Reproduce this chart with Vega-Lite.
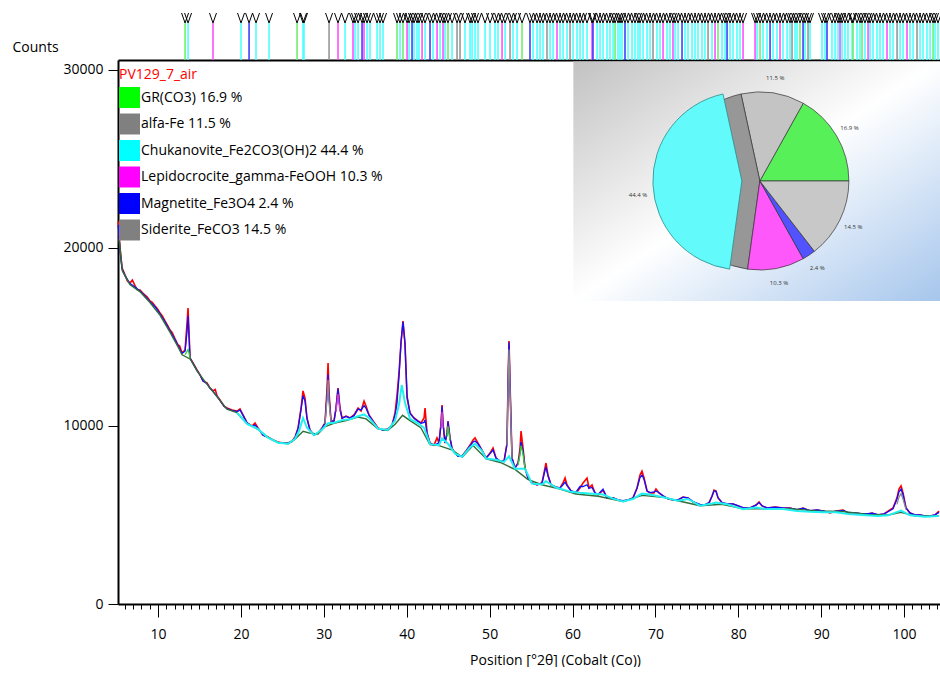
{
"$schema": "https://vega.github.io/schema/vega-lite/v6.json",
"background": "white",
"padding": {"left": 12, "top": 10, "right": 0, "bottom": 0},
"autosize": {"type": "pad"},
"config": {"view": {"stroke": null}, "axis": {"grid": false}},
"spacing": 0,
"bounds": "flush",
"resolve": {"scale": {"x": "independent", "y": "independent", "stroke": "independent", "fill": "independent", "color": "independent"}},
"datasets": {
"obs": [
{"x":5.2,"y":21500},{"x":5.42,"y":20000},{"x":5.66,"y":18880},{"x":6.02,"y":18480},{"x":6.3,"y":18150},{"x":6.62,"y":18030},{"x":6.9,"y":18200},{"x":7.23,"y":17870},{"x":7.5,"y":17650},{"x":7.83,"y":17640},{"x":8.1,"y":17500},{"x":8.43,"y":17360},{"x":8.7,"y":17250},{"x":9.03,"y":17020},{"x":9.3,"y":16950},{"x":9.64,"y":16740},{"x":9.9,"y":16600},{"x":10.24,"y":16350},{"x":10.5,"y":16200},{"x":10.84,"y":15900},{"x":11.1,"y":15700},{"x":11.45,"y":15390},{"x":11.7,"y":15250},{"x":12.05,"y":14890},{"x":12.41,"y":14550},{"x":12.6,"y":14500},{"x":12.9,"y":14100},{"x":13.26,"y":14270},{"x":13.5,"y":15790},{"x":13.62,"y":16630},{"x":13.74,"y":15220},{"x":13.86,"y":13820},{"x":14.22,"y":13540},{"x":14.7,"y":13150},{"x":15.07,"y":12870},{"x":15.43,"y":12530},{"x":15.91,"y":12420},{"x":16.27,"y":12130},{"x":16.63,"y":11970},{"x":16.9,"y":12050},{"x":17.12,"y":11690},{"x":17.48,"y":11460},{"x":17.96,"y":11120},{"x":18.32,"y":11010},{"x":18.93,"y":10900},{"x":19.53,"y":10840},{"x":19.89,"y":10960},{"x":20.25,"y":10620},{"x":20.74,"y":10170},{"x":21.34,"y":10000},{"x":21.7,"y":10170},{"x":22.06,"y":9890},{"x":22.67,"y":9490},{"x":23.27,"y":9380},{"x":23.87,"y":9210},{"x":24.48,"y":9100},{"x":25.08,"y":9040},{"x":25.68,"y":9040},{"x":26.16,"y":9160},{"x":26.53,"y":9380},{"x":26.89,"y":9890},{"x":27.25,"y":11010},{"x":27.49,"y":11970},{"x":27.73,"y":11570},{"x":27.97,"y":10450},{"x":28.33,"y":9780},{"x":28.81,"y":9490},{"x":29.3,"y":9610},{"x":29.78,"y":9890},{"x":30.14,"y":10170},{"x":30.39,"y":12130},{"x":30.51,"y":13540},{"x":30.63,"y":11850},{"x":30.87,"y":10280},{"x":31.23,"y":10280},{"x":31.47,"y":11010},{"x":31.71,"y":12130},{"x":31.95,"y":11010},{"x":32.2,"y":10450},{"x":32.68,"y":10560},{"x":33.16,"y":10450},{"x":33.64,"y":10620},{"x":34.13,"y":11010},{"x":34.49,"y":10840},{"x":34.85,"y":11400},{"x":35.09,"y":11120},{"x":35.45,"y":10620},{"x":35.94,"y":10280},{"x":36.54,"y":9890},{"x":37.14,"y":9780},{"x":37.74,"y":9830},{"x":38.23,"y":10060},{"x":38.59,"y":10730},{"x":38.83,"y":11740},{"x":39.07,"y":12980},{"x":39.31,"y":14660},{"x":39.55,"y":15900},{"x":39.79,"y":14660},{"x":40.04,"y":11570},{"x":40.4,"y":10730},{"x":40.88,"y":10450},{"x":41.36,"y":10280},{"x":41.73,"y":10170},{"x":42.09,"y":10450},{"x":42.21,"y":11010},{"x":42.45,"y":9610},{"x":42.81,"y":9040},{"x":43.29,"y":8930},{"x":43.65,"y":9330},{"x":43.89,"y":9040},{"x":44.14,"y":10170},{"x":44.26,"y":11180},{"x":44.38,"y":10170},{"x":44.62,"y":9040},{"x":44.86,"y":9610},{"x":44.98,"y":10280},{"x":45.22,"y":9330},{"x":45.46,"y":8760},{"x":45.83,"y":8480},{"x":46.19,"y":8310},{"x":46.67,"y":8310},{"x":47.15,"y":8600},{"x":47.64,"y":8930},{"x":48.0,"y":9210},{"x":48.24,"y":9330},{"x":48.6,"y":9040},{"x":49.08,"y":8650},{"x":49.57,"y":8200},{"x":50.05,"y":8480},{"x":50.41,"y":8760},{"x":50.77,"y":8200},{"x":51.25,"y":8030},{"x":51.74,"y":8030},{"x":52.1,"y":9040},{"x":52.22,"y":12420},{"x":52.34,"y":14780},{"x":52.46,"y":12420},{"x":52.7,"y":8200},{"x":53.06,"y":7640},{"x":53.43,"y":7920},{"x":53.67,"y":8760},{"x":53.79,"y":9720},{"x":54.03,"y":8760},{"x":54.27,"y":7640},{"x":54.63,"y":7080},{"x":55.11,"y":6800},{"x":55.72,"y":6690},{"x":56.32,"y":6800},{"x":56.68,"y":7640},{"x":56.8,"y":7920},{"x":57.04,"y":7250},{"x":57.41,"y":6690},{"x":58.01,"y":6570},{"x":58.49,"y":6520},{"x":58.85,"y":6800},{"x":59.1,"y":7080},{"x":59.34,"y":6690},{"x":59.82,"y":6350},{"x":60.42,"y":6240},{"x":60.9,"y":6520},{"x":61.27,"y":6800},{"x":61.75,"y":7080},{"x":61.99,"y":6520},{"x":62.35,"y":6690},{"x":62.71,"y":6240},{"x":63.08,"y":6120},{"x":63.68,"y":6400},{"x":64.16,"y":5960},{"x":64.89,"y":5960},{"x":65.49,"y":5840},{"x":66.09,"y":5790},{"x":66.7,"y":5840},{"x":67.3,"y":5960},{"x":67.78,"y":6520},{"x":68.14,"y":7250},{"x":68.38,"y":7470},{"x":68.63,"y":7080},{"x":68.99,"y":6350},{"x":69.35,"y":6240},{"x":69.83,"y":6240},{"x":70.07,"y":6460},{"x":70.43,"y":6240},{"x":70.92,"y":6070},{"x":71.52,"y":5900},{"x":72.12,"y":5840},{"x":72.73,"y":5840},{"x":73.33,"y":6010},{"x":73.93,"y":5960},{"x":74.54,"y":5730},{"x":75.38,"y":5560},{"x":75.98,"y":5560},{"x":76.47,"y":5670},{"x":76.83,"y":6070},{"x":77.07,"y":6400},{"x":77.31,"y":6350},{"x":77.55,"y":5960},{"x":78.04,"y":5670},{"x":78.64,"y":5620},{"x":79.36,"y":5620},{"x":79.96,"y":5510},{"x":80.57,"y":5390},{"x":81.41,"y":5390},{"x":82.13,"y":5560},{"x":82.5,"y":5730},{"x":82.86,"y":5510},{"x":83.46,"y":5390},{"x":84.43,"y":5450},{"x":85.39,"y":5390},{"x":86.24,"y":5390},{"x":87.08,"y":5280},{"x":87.81,"y":5390},{"x":88.65,"y":5220},{"x":89.49,"y":5280},{"x":90.22,"y":5220},{"x":91.06,"y":5110},{"x":91.79,"y":5220},{"x":92.63,"y":5280},{"x":93.23,"y":5110},{"x":94.08,"y":5110},{"x":94.92,"y":5060},{"x":95.65,"y":5060},{"x":96.13,"y":5110},{"x":96.85,"y":5000},{"x":97.58,"y":5060},{"x":98.06,"y":5220},{"x":98.66,"y":5390},{"x":99.14,"y":5960},{"x":99.38,"y":6460},{"x":99.63,"y":6630},{"x":99.87,"y":6240},{"x":100.23,"y":5390},{"x":100.71,"y":5110},{"x":101.31,"y":5000},{"x":101.92,"y":5000},{"x":102.52,"y":4940},{"x":103.12,"y":4940},{"x":103.72,"y":5000},{"x":104.21,"y":5220}
],
"calc": [
{"x":5.2,"y":21300},{"x":5.42,"y":19800},{"x":5.66,"y":18800},{"x":6.02,"y":18450},{"x":6.62,"y":18000},{"x":7.23,"y":17800},{"x":7.83,"y":17580},{"x":8.43,"y":17300},{"x":9.03,"y":16980},{"x":9.64,"y":16700},{"x":10.24,"y":16300},{"x":10.84,"y":15850},{"x":11.45,"y":15350},{"x":12.05,"y":14850},{"x":12.41,"y":14520},{"x":12.9,"y":14080},{"x":13.26,"y":14200},{"x":13.5,"y":15300},{"x":13.62,"y":16200},{"x":13.74,"y":15000},{"x":13.86,"y":13800},{"x":14.22,"y":13520},{"x":14.7,"y":13120},{"x":15.07,"y":12850},{"x":15.43,"y":12520},{"x":15.91,"y":12380},{"x":16.27,"y":12120},{"x":16.63,"y":11950},{"x":17.12,"y":11660},{"x":17.48,"y":11430},{"x":17.96,"y":11100},{"x":18.32,"y":10980},{"x":18.93,"y":10870},{"x":19.53,"y":10800},{"x":19.89,"y":10900},{"x":20.25,"y":10600},{"x":20.74,"y":10180},{"x":21.34,"y":9980},{"x":21.7,"y":10050},{"x":22.06,"y":9860},{"x":22.67,"y":9480},{"x":23.27,"y":9360},{"x":23.87,"y":9200},{"x":24.48,"y":9080},{"x":25.08,"y":9030},{"x":25.68,"y":9030},{"x":26.16,"y":9120},{"x":26.53,"y":9350},{"x":26.89,"y":9850},{"x":27.25,"y":10900},{"x":27.49,"y":11700},{"x":27.73,"y":11400},{"x":27.97,"y":10400},{"x":28.33,"y":9760},{"x":28.81,"y":9480},{"x":29.3,"y":9600},{"x":29.78,"y":9870},{"x":30.14,"y":10150},{"x":30.39,"y":11800},{"x":30.51,"y":12900},{"x":30.63,"y":11600},{"x":30.87,"y":10270},{"x":31.23,"y":10270},{"x":31.47,"y":11000},{"x":31.71,"y":12100},{"x":31.95,"y":10950},{"x":32.2,"y":10430},{"x":32.68,"y":10540},{"x":33.16,"y":10440},{"x":33.64,"y":10580},{"x":34.13,"y":10950},{"x":34.49,"y":10900},{"x":34.85,"y":11150},{"x":35.09,"y":11000},{"x":35.45,"y":10600},{"x":35.94,"y":10260},{"x":36.54,"y":9870},{"x":37.14,"y":9760},{"x":37.74,"y":9820},{"x":38.23,"y":10040},{"x":38.59,"y":10600},{"x":38.83,"y":11300},{"x":39.07,"y":12800},{"x":39.31,"y":14700},{"x":39.55,"y":15850},{"x":39.79,"y":14600},{"x":40.04,"y":11700},{"x":40.4,"y":10700},{"x":40.88,"y":10430},{"x":41.36,"y":10260},{"x":41.73,"y":10150},{"x":42.09,"y":10200},{"x":42.21,"y":10350},{"x":42.45,"y":9600},{"x":42.81,"y":9030},{"x":43.29,"y":8920},{"x":43.65,"y":9000},{"x":43.89,"y":9050},{"x":44.14,"y":10100},{"x":44.26,"y":11100},{"x":44.38,"y":10150},{"x":44.62,"y":9050},{"x":44.86,"y":9550},{"x":44.98,"y":10250},{"x":45.22,"y":9320},{"x":45.46,"y":8750},{"x":45.83,"y":8470},{"x":46.19,"y":8300},{"x":46.67,"y":8300},{"x":47.15,"y":8590},{"x":47.64,"y":8900},{"x":48.0,"y":9100},{"x":48.24,"y":9150},{"x":48.6,"y":9000},{"x":49.08,"y":8640},{"x":49.57,"y":8200},{"x":50.05,"y":8450},{"x":50.41,"y":8650},{"x":50.77,"y":8200},{"x":51.25,"y":8020},{"x":51.74,"y":8020},{"x":52.1,"y":9000},{"x":52.22,"y":12400},{"x":52.34,"y":14700},{"x":52.46,"y":12300},{"x":52.7,"y":8200},{"x":53.06,"y":7640},{"x":53.43,"y":7900},{"x":53.67,"y":8500},{"x":53.79,"y":9100},{"x":54.03,"y":8600},{"x":54.27,"y":7640},{"x":54.63,"y":7080},{"x":55.11,"y":6800},{"x":55.72,"y":6690},{"x":56.32,"y":6800},{"x":56.68,"y":7500},{"x":56.8,"y":7700},{"x":57.04,"y":7200},{"x":57.41,"y":6690},{"x":58.01,"y":6570},{"x":58.49,"y":6520},{"x":58.85,"y":6700},{"x":59.1,"y":6850},{"x":59.34,"y":6650},{"x":59.82,"y":6350},{"x":60.42,"y":6280},{"x":60.9,"y":6600},{"x":61.27,"y":6600},{"x":61.75,"y":6700},{"x":61.99,"y":6500},{"x":62.35,"y":6550},{"x":62.71,"y":6240},{"x":63.08,"y":6150},{"x":63.68,"y":6450},{"x":64.16,"y":5960},{"x":64.89,"y":5960},{"x":65.49,"y":5850},{"x":66.09,"y":5800},{"x":66.7,"y":5850},{"x":67.3,"y":5960},{"x":67.78,"y":6500},{"x":68.14,"y":7100},{"x":68.38,"y":7250},{"x":68.63,"y":7000},{"x":68.99,"y":6350},{"x":69.35,"y":6260},{"x":69.83,"y":6300},{"x":70.07,"y":6350},{"x":70.43,"y":6250},{"x":70.92,"y":6080},{"x":71.52,"y":5920},{"x":72.12,"y":5850},{"x":72.73,"y":5850},{"x":73.33,"y":6000},{"x":73.93,"y":5960},{"x":74.54,"y":5750},{"x":75.38,"y":5600},{"x":75.98,"y":5580},{"x":76.47,"y":5700},{"x":76.83,"y":6050},{"x":77.07,"y":6350},{"x":77.31,"y":6330},{"x":77.55,"y":5980},{"x":78.04,"y":5700},{"x":78.64,"y":5640},{"x":79.36,"y":5630},{"x":79.96,"y":5530},{"x":80.57,"y":5410},{"x":81.41,"y":5400},{"x":82.13,"y":5550},{"x":82.5,"y":5700},{"x":82.86,"y":5520},{"x":83.46,"y":5400},{"x":84.43,"y":5440},{"x":85.39,"y":5400},{"x":86.24,"y":5390},{"x":87.08,"y":5300},{"x":87.81,"y":5380},{"x":88.65,"y":5240},{"x":89.49,"y":5280},{"x":90.22,"y":5230},{"x":91.06,"y":5130},{"x":91.79,"y":5220},{"x":92.63,"y":5260},{"x":93.23,"y":5130},{"x":94.08,"y":5120},{"x":94.92,"y":5070},{"x":95.65,"y":5070},{"x":96.13,"y":5100},{"x":96.85,"y":5020},{"x":97.58,"y":5060},{"x":98.06,"y":5180},{"x":98.66,"y":5350},{"x":99.14,"y":5900},{"x":99.38,"y":6300},{"x":99.63,"y":6450},{"x":99.87,"y":6150},{"x":100.23,"y":5400},{"x":100.71,"y":5120},{"x":101.31,"y":5010},{"x":101.92,"y":5010},{"x":102.52,"y":4950},{"x":103.12,"y":4950},{"x":103.72,"y":5010},{"x":104.21,"y":5150}
],
"bg": [
{"x":5.3,"y":20500},{"x":5.7,"y":18700},{"x":6.6,"y":17950},{"x":7.8,"y":17550},{"x":9.0,"y":16950},{"x":10.2,"y":16250},{"x":11.4,"y":15300},{"x":12.4,"y":14450},{"x":12.9,"y":14000},{"x":13.9,"y":13750},{"x":14.7,"y":13100},{"x":15.9,"y":12350},{"x":17.1,"y":11650},{"x":18.3,"y":10950},{"x":19.5,"y":10750},{"x":20.7,"y":10150},{"x":22.1,"y":9800},{"x":23.3,"y":9350},{"x":24.5,"y":9070},{"x":25.7,"y":9000},{"x":26.5,"y":9250},{"x":27.5,"y":9700},{"x":28.3,"y":9600},{"x":29.3,"y":9550},{"x":30.1,"y":9950},{"x":31.2,"y":10150},{"x":32.7,"y":10300},{"x":34.1,"y":10500},{"x":35.1,"y":10400},{"x":36.5,"y":9850},{"x":37.7,"y":9750},{"x":38.6,"y":10100},{"x":39.5,"y":10600},{"x":40.4,"y":10300},{"x":41.7,"y":9900},{"x":42.8,"y":8950},{"x":43.9,"y":8900},{"x":45.5,"y":8650},{"x":46.7,"y":8250},{"x":48.0,"y":8900},{"x":49.6,"y":8150},{"x":51.3,"y":7950},{"x":53.1,"y":7550},{"x":54.6,"y":7000},{"x":56.3,"y":6700},{"x":58.5,"y":6450},{"x":60.4,"y":6180},{"x":63.1,"y":6050},{"x":66.1,"y":5750},{"x":68.4,"y":6100},{"x":70.9,"y":6000},{"x":72.7,"y":5800},{"x":75.4,"y":5520},{"x":78.0,"y":5600},{"x":80.6,"y":5350},{"x":83.5,"y":5350},{"x":86.2,"y":5350},{"x":89.5,"y":5230},{"x":92.6,"y":5200},{"x":95.6,"y":5030},{"x":98.1,"y":5000},{"x":99.6,"y":5150},{"x":101.3,"y":4950},{"x":104.2,"y":4950}
],
"chuk": [
{"x":19.53,"y":10750},{"x":20.74,"y":10120},{"x":22.06,"y":9820},{"x":23.27,"y":9340},{"x":24.48,"y":9060},{"x":25.68,"y":9000},{"x":26.53,"y":9280},{"x":27.0,"y":9700},{"x":27.49,"y":10450},{"x":27.97,"y":9900},{"x":28.81,"y":9480},{"x":29.78,"y":9800},{"x":30.5,"y":10150},{"x":31.23,"y":10180},{"x":32.2,"y":10330},{"x":33.16,"y":10380},{"x":34.13,"y":10550},{"x":34.85,"y":10650},{"x":35.45,"y":10450},{"x":36.54,"y":9850},{"x":37.74,"y":9780},{"x":38.59,"y":10300},{"x":39.07,"y":11200},{"x":39.4,"y":12300},{"x":39.79,"y":11300},{"x":40.4,"y":10400},{"x":41.36,"y":10150},{"x":42.09,"y":9900},{"x":42.81,"y":8980},{"x":43.89,"y":8920},{"x":44.26,"y":9300},{"x":44.98,"y":9000},{"x":45.83,"y":8450},{"x":46.67,"y":8270},{"x":47.64,"y":8800},{"x":48.24,"y":9000},{"x":49.08,"y":8600},{"x":49.57,"y":8170},{"x":50.77,"y":8100},{"x":51.74,"y":7980},{"x":52.34,"y":8300},{"x":53.06,"y":7600},{"x":54.27,"y":7600},{"x":55.11,"y":6760},{"x":56.32,"y":6720},{"x":56.8,"y":6900},{"x":58.01,"y":6540},{"x":59.82,"y":6300},{"x":60.9,"y":6250},{"x":62.35,"y":6200},{"x":63.68,"y":6150},{"x":64.89,"y":5920},{"x":66.09,"y":5760},{"x":67.3,"y":5900},{"x":68.38,"y":6200},{"x":69.35,"y":6150},{"x":70.92,"y":6000},{"x":72.73,"y":5800},{"x":73.93,"y":5900},{"x":75.38,"y":5520},{"x":76.83,"y":5650},{"x":77.31,"y":5700},{"x":78.64,"y":5600},{"x":80.57,"y":5330},{"x":82.13,"y":5420},{"x":83.46,"y":5330},{"x":85.39,"y":5330},{"x":87.08,"y":5230},{"x":88.65,"y":5180},{"x":90.22,"y":5160},{"x":91.79,"y":5150},{"x":93.23,"y":5060},{"x":94.92,"y":5000},{"x":96.85,"y":4950},{"x":98.06,"y":4980},{"x":99.63,"y":5250},{"x":100.71,"y":4980},{"x":102.52,"y":4900},{"x":104.21,"y":4950}
],
"seg": [
{"g":"gy1","p":"Gy","x":30.14,"y":10100},{"g":"gy1","p":"Gy","x":30.39,"y":11500},{"g":"gy1","p":"Gy","x":30.51,"y":12600},{"g":"gy1","p":"Gy","x":30.63,"y":11300},{"g":"gy1","p":"Gy","x":30.87,"y":10250},
{"g":"gy2","p":"Gy","x":52.1,"y":8900},{"g":"gy2","p":"Gy","x":52.22,"y":12000},{"g":"gy2","p":"Gy","x":52.34,"y":14300},{"g":"gy2","p":"Gy","x":52.46,"y":12000},{"g":"gy2","p":"Gy","x":52.7,"y":8150},
{"g":"gy3","p":"Gy","x":99.14,"y":5600},{"g":"gy3","p":"Gy","x":99.38,"y":6000},{"g":"gy3","p":"Gy","x":99.63,"y":6200},{"g":"gy3","p":"Gy","x":99.87,"y":5900},{"g":"gy3","p":"Gy","x":100.23,"y":5300},
{"g":"m1","p":"M","x":31.47,"y":10800},{"g":"m1","p":"M","x":31.71,"y":11800},{"g":"m1","p":"M","x":31.95,"y":10800},
{"g":"m2","p":"M","x":44.14,"y":9900},{"g":"m2","p":"M","x":44.26,"y":10800},{"g":"m2","p":"M","x":44.38,"y":9900},
{"g":"g1","p":"G","x":53.43,"y":7800},{"g":"g1","p":"G","x":53.67,"y":8400},{"g":"g1","p":"G","x":53.79,"y":8900},{"g":"g1","p":"G","x":54.03,"y":8400},{"g":"g1","p":"G","x":54.27,"y":7600},
{"g":"g2","p":"G","x":13.26,"y":14000},{"g":"g2","p":"G","x":13.5,"y":14200},{"g":"g2","p":"G","x":13.62,"y":14300},{"g":"g2","p":"G","x":13.74,"y":14100},{"g":"g2","p":"G","x":13.86,"y":13800},
{"g":"g3","p":"G","x":44.86,"y":9400},{"g":"g3","p":"G","x":44.98,"y":10000},{"g":"g3","p":"G","x":45.22,"y":9200}
],
"pie": [
{"idx":1,"label":"GR(CO3) 16.9 %","pct":16.9,"lab":"16.9 %"},
{"idx":2,"label":"alfa-Fe 11.5 %","pct":11.5,"lab":"11.5 %"},
{"idx":3,"label":"Chukanovite_Fe2CO3(OH)2 44.4 %","pct":44.4,"lab":"44.4 %"},
{"idx":4,"label":"Lepidocrocite_gamma-FeOOH 10.3 %","pct":10.3,"lab":"10.3 %"},
{"idx":5,"label":"Magnetite_Fe3O4 2.4 %","pct":2.4,"lab":"2.4 %"},
{"idx":6,"label":"Siderite_FeCO3 14.5 %","pct":14.5,"lab":"14.5 %"}
],
"pk": [
{"x":13.26,"p":"G"},{"x":13.62,"p":"C"},{"x":16.63,"p":"M"},{"x":20.01,"p":"C"},{"x":20.98,"p":"B"},{"x":21.82,"p":"C"},{"x":23.39,"p":"C"},{"x":26.77,"p":"G"},{"x":27.49,"p":"C"},{"x":27.61,"p":"C"},{"x":30.63,"p":"Gy"},{"x":31.71,"p":"M"},{"x":32.56,"p":"C"},{"x":33.52,"p":"M"},{"x":33.76,"p":"C"},{"x":34.13,"p":"C"},{"x":34.61,"p":"B"},{"x":34.85,"p":"M"},{"x":35.21,"p":"C"},{"x":35.57,"p":"C"},{"x":36.42,"p":"C"},{"x":36.78,"p":"C"},{"x":37.14,"p":"C"},{"x":38.83,"p":"G"},{"x":39.19,"p":"C"},{"x":39.55,"p":"G"},{"x":40.04,"p":"M"},{"x":40.28,"p":"C"},{"x":40.64,"p":"B"},{"x":40.88,"p":"C"},{"x":41.24,"p":"C"},{"x":41.48,"p":"C"},{"x":41.85,"p":"M"},{"x":42.21,"p":"C"},{"x":42.81,"p":"B"},{"x":43.17,"p":"C"},{"x":43.66,"p":"M"},{"x":44.02,"p":"C"},{"x":44.38,"p":"M"},{"x":44.62,"p":"C"},{"x":44.98,"p":"G"},{"x":45.47,"p":"C"},{"x":46.07,"p":"Gy"},{"x":46.43,"p":"Gy"},{"x":47.03,"p":"C"},
{"x":47.64,"p":"C"},{"x":47.88,"p":"C"},{"x":48.24,"p":"C"},{"x":48.6,"p":"C"},{"x":49.45,"p":"C"},{"x":50.05,"p":"C"},{"x":50.65,"p":"C"},{"x":51.01,"p":"C"},{"x":51.5,"p":"M"},{"x":51.86,"p":"C"},{"x":52.46,"p":"Gy"},{"x":52.82,"p":"C"},{"x":53.31,"p":"C"},{"x":53.91,"p":"G"},{"x":54.87,"p":"B"},{"x":55.24,"p":"C"},{"x":55.72,"p":"C"},{"x":56.08,"p":"C"},{"x":56.44,"p":"C"},{"x":56.92,"p":"Gy"},{"x":57.29,"p":"C"},{"x":57.65,"p":"C"},{"x":58.13,"p":"M"},{"x":58.49,"p":"C"},{"x":58.86,"p":"C"},{"x":59.34,"p":"C"},{"x":59.7,"p":"Gy"},{"x":60.06,"p":"C"},{"x":60.54,"p":"C"},{"x":60.91,"p":"C"},{"x":61.27,"p":"C"},{"x":61.75,"p":"C"},{"x":62.35,"p":"M"},{"x":62.47,"p":"B"},{"x":62.96,"p":"C"},{"x":63.32,"p":"C"},{"x":63.68,"p":"C"},{"x":64.16,"p":"C"},{"x":64.52,"p":"C"},{"x":64.89,"p":"C"},{"x":65.13,"p":"G"},{"x":65.49,"p":"C"},{"x":65.73,"p":"C"},{"x":65.97,"p":"C"},{"x":66.33,"p":"B"},{"x":66.7,"p":"C"},{"x":67.18,"p":"C"},{"x":67.54,"p":"C"},{"x":67.9,"p":"C"},{"x":68.14,"p":"C"},{"x":68.51,"p":"C"},{"x":68.99,"p":"C"},{"x":69.35,"p":"C"},{"x":69.71,"p":"Gy"},{"x":70.19,"p":"C"},{"x":70.56,"p":"C"},{"x":70.92,"p":"M"},{"x":71.4,"p":"C"},{"x":71.76,"p":"C"},{"x":72.12,"p":"M"},{"x":72.37,"p":"C"},{"x":72.73,"p":"C"},{"x":73.21,"p":"B"},{"x":73.57,"p":"C"},{"x":73.93,"p":"C"},{"x":74.42,"p":"C"},{"x":74.78,"p":"C"},{"x":75.14,"p":"C"},{"x":75.62,"p":"C"},{"x":75.98,"p":"C"},{"x":76.35,"p":"Gy"},{"x":76.83,"p":"C"},{"x":77.19,"p":"M"},{"x":77.55,"p":"G"},{"x":78.04,"p":"C"},{"x":78.4,"p":"C"},{"x":78.64,"p":"B"},{"x":79.0,"p":"C"},{"x":79.36,"p":"C"},{"x":79.84,"p":"C"},{"x":80.21,"p":"C"},{"x":80.57,"p":"M"},{"x":82.02,"p":"M"},{"x":82.26,"p":"C"},{"x":82.62,"p":"G"},{"x":82.98,"p":"C"},{"x":83.46,"p":"C"},{"x":83.83,"p":"B"},{"x":84.19,"p":"C"},{"x":84.67,"p":"C"},{"x":85.03,"p":"M"},{"x":85.39,"p":"C"},{"x":85.88,"p":"C"},{"x":86.24,"p":"C"},{"x":86.48,"p":"Gy"},{"x":86.84,"p":"C"},{"x":87.08,"p":"C"},{"x":87.44,"p":"G"},{"x":87.81,"p":"B"},{"x":88.05,"p":"C"},{"x":88.41,"p":"Gy"},{"x":88.65,"p":"C"},{"x":90.1,"p":"C"},{"x":90.46,"p":"C"},{"x":90.7,"p":"B"},{"x":91.3,"p":"C"},{"x":91.67,"p":"C"},{"x":92.03,"p":"C"},{"x":92.27,"p":"M"},{"x":92.51,"p":"C"},{"x":92.87,"p":"C"},{"x":93.23,"p":"C"},{"x":93.72,"p":"C"},{"x":93.84,"p":"G"},{"x":94.32,"p":"C"},{"x":94.68,"p":"C"},{"x":94.92,"p":"G"},{"x":95.28,"p":"C"},{"x":95.65,"p":"M"},{"x":95.89,"p":"C"},{"x":96.25,"p":"C"},{"x":96.73,"p":"C"},{"x":97.09,"p":"C"},{"x":97.46,"p":"C"},{"x":97.94,"p":"M"},{"x":98.3,"p":"C"},{"x":98.66,"p":"C"},{"x":99.15,"p":"Gy"},{"x":99.51,"p":"C"},{"x":99.87,"p":"C"},{"x":100.35,"p":"M"},{"x":100.71,"p":"C"},{"x":101.08,"p":"C"},{"x":101.56,"p":"Gy"},{"x":101.92,"p":"C"},{"x":102.28,"p":"C"},{"x":102.76,"p":"C"},{"x":103.13,"p":"C"},{"x":103.49,"p":"G"},{"x":103.73,"p":"C"},{"x":104.09,"p":"C"}
]
},
"vconcat": [
{
"width": 822, "height": 47,
"data": {"name": "pk"},
"layer": [
{"mark": {"type": "rule", "strokeWidth": 1.5},
 "encoding": {
  "x": {"field": "x", "type": "quantitative", "scale": {"domain": [5.17, 104.33], "nice": false, "zero": false},
        "axis": {"title": null, "labels": false, "ticks": false, "domainColor": "#000000", "domainWidth": 2}},
  "y": {"datum": 0, "type": "quantitative", "scale": {"domain": [0, 1], "nice": false}, "axis": null},
  "y2": {"datum": 0.787},
  "stroke": {"field": "p", "type": "nominal", "scale": {"domain": ["G", "C", "M", "B", "Gy"], "range": ["#66ee66", "#44ffff", "#ff44ff", "#3333ff", "#909090"]}, "legend": null}
 }},
{"mark": {"type": "point", "shape": "M-0.7,-1L0,1L0.7,-1", "filled": false, "stroke": "#000000", "strokeWidth": 1, "size": 100, "opacity": 1},
 "encoding": {
  "x": {"field": "x", "type": "quantitative"},
  "y": {"datum": 0.894, "type": "quantitative"}
 }}
]
},
{
"width": 822, "height": 544,
"resolve": {"axis": {"x": "independent"}},
"layer": [
{"data": {"values": [{}]},
 "mark": {"type": "rect", "fill": {"gradient": "linear", "x1": 0, "y1": 0, "x2": 1, "y2": 1, "stops": [{"offset": 0, "color": "#c2c2c2"}, {"offset": 0.5, "color": "#ffffff"}, {"offset": 1, "color": "#a6c6ec"}]}},
 "encoding": {
  "x": {"datum": 60.1, "type": "quantitative",
        "scale": {"domain": [5.17, 104.33], "nice": false, "zero": false},
        "axis": {"orient": "bottom", "title": "Position [°2θ] (Cobalt (Co))",
                 "values": [10,20,30,40,50,60,70,80,90,100],
                 "tickSize": 13, "tickColor": "#000000", "tickWidth": 1, "domainColor": "#000000", "domainWidth": 2,
                 "labelFont": "Open Sans", "labelFontSize": 14, "labelColor": "#000000", "labelPadding": 10,
                 "labelOverlap": false, "labelFlush": false,
                 "titleFont": "Open Sans", "titleFontSize": 14, "titleFontWeight": "normal", "titleColor": "#000000", "titlePadding": 12, "titleX": 437}},
  "x2": {"datum": 104.33},
  "y": {"datum": 17022, "type": "quantitative",
        "scale": {"domain": [0, 30560], "nice": false, "zero": false},
        "axis": {"title": "Counts", "values": [0, 10000, 20000, 30000], "format": "d",
                 "tickSize": 10, "tickColor": "#000000", "domainColor": "#000000", "domainWidth": 2,
                 "labelFont": "Open Sans", "labelFontSize": 14, "labelColor": "#000000", "labelPadding": 5,
                 "titleAngle": 0, "titleX": -106, "titleY": -13, "titleAlign": "left", "titleBaseline": "middle",
                 "titleFont": "Open Sans", "titleFontSize": 14, "titleFontWeight": "normal", "titleColor": "#000000"}},
  "y2": {"datum": 30480}
 }},
{"data": {"name": "obs"}, "mark": {"type": "line", "color": "#ff0000", "strokeWidth": 1.6},
 "encoding": {
  "x": {"field": "x", "type": "quantitative",
        "axis": {"orient": "bottom", "title": null, "labels": false, "domain": false,
                 "values": [6,7,8,9,11,12,13,14,15,16,17,18,19,21,22,23,24,25,26,27,28,29,31,32,33,34,35,36,37,38,39,41,42,43,44,45,46,47,48,49,51,52,53,54,55,56,57,58,59,61,62,63,64,65,66,67,68,69,71,72,73,74,75,76,77,78,79,81,82,83,84,85,86,87,88,89,91,92,93,94,95,96,97,98,99,101,102,103,104],
                 "tickSize": 5, "tickColor": "#000000", "tickWidth": 1}},
  "y": {"field": "y", "type": "quantitative"}}},
{"data": {"name": "calc"}, "mark": {"type": "line", "color": "#1010ff", "strokeWidth": 1.3},
 "encoding": {"x": {"field": "x", "type": "quantitative", "axis": null}, "y": {"field": "y", "type": "quantitative"}}},
{"data": {"name": "bg"}, "mark": {"type": "line", "color": "#2f6e3a", "strokeWidth": 1.4},
 "encoding": {"x": {"field": "x", "type": "quantitative", "axis": null}, "y": {"field": "y", "type": "quantitative"}}},
{"data": {"name": "chuk"}, "mark": {"type": "line", "color": "#22f0f0", "strokeWidth": 2},
 "encoding": {"x": {"field": "x", "type": "quantitative", "axis": null}, "y": {"field": "y", "type": "quantitative"}}},
{"data": {"name": "seg"}, "mark": {"type": "line", "strokeWidth": 1.3},
 "encoding": {"x": {"field": "x", "type": "quantitative", "axis": null}, "y": {"field": "y", "type": "quantitative"}, "detail": {"field": "g"},
  "stroke": {"field": "p", "type": "nominal", "scale": {"domain": ["Gy", "M", "G"], "range": ["#8a8a8a", "#cc44cc", "#33cc33"]}, "legend": null}}},
{"data": {"name": "pie"},
 "mark": {"type": "point", "shape": "square", "opacity": 0},
 "encoding": {
  "x": {"datum": 50, "type": "quantitative", "axis": null}, "y": {"datum": 20000, "type": "quantitative"},
  "fill": {"field": "label", "type": "nominal",
   "scale": {"domain": ["GR(CO3) 16.9 %", "alfa-Fe 11.5 %", "Chukanovite_Fe2CO3(OH)2 44.4 %", "Lepidocrocite_gamma-FeOOH 10.3 %", "Magnetite_Fe3O4 2.4 %", "Siderite_FeCO3 14.5 %"],
             "range": ["#00ff00", "#808080", "#00ffff", "#ff00ff", "#0000ff", "#808080"]},
   "legend": {"orient": "none", "legendX": 1, "legendY": 8, "title": "PV129_7_air",
     "titleColor": "#ff0000", "titleFont": "Open Sans", "titleFontSize": 14, "titleFontWeight": "normal", "titlePadding": 5,
     "labelFont": "Open Sans", "labelFontSize": 14, "labelColor": "#000000", "labelOffset": 1, "labelLimit": 500,
     "symbolType": "square", "symbolSize": 441, "symbolStrokeWidth": 0, "symbolOpacity": 1, "rowPadding": 5.5, "padding": 0}}
 }},
{"data": {"name": "pie"},
 "mark": {"type": "arc", "outerRadius": 89, "stroke": "#333333", "strokeWidth": 0.7},
 "encoding": {
  "x": {"datum": 82.6, "type": "quantitative", "axis": null}, "y": {"datum": 23764, "type": "quantitative"},
  "theta": {"field": "pct", "type": "quantitative", "stack": true, "scale": {"range": [1.5708, -4.7124]}},
  "order": {"field": "idx", "type": "quantitative"},
  "color": {"condition": {"test": "datum.idx === 3", "value": "#979797"}, "field": "label", "type": "nominal",
   "scale": {"domain": ["GR(CO3) 16.9 %", "alfa-Fe 11.5 %", "Chukanovite_Fe2CO3(OH)2 44.4 %", "Lepidocrocite_gamma-FeOOH 10.3 %", "Magnetite_Fe3O4 2.4 %", "Siderite_FeCO3 14.5 %"],
             "range": ["#58f058", "#c4c4c4", "#62fafa", "#ff58fa", "#5252ff", "#c8c8c8"]},
   "legend": null}
 }},
{"data": {"name": "pie"},
 "mark": {"type": "arc", "outerRadius": 89, "stroke": "#2a8c8c", "strokeWidth": 0.8, "xOffset": -18},
 "encoding": {
  "x": {"datum": 82.6, "type": "quantitative", "axis": null}, "y": {"datum": 23764, "type": "quantitative"},
  "theta": {"field": "pct", "type": "quantitative", "stack": true},
  "order": {"field": "idx", "type": "quantitative"},
  "color": {"field": "label", "type": "nominal", "legend": null},
  "opacity": {"condition": {"test": "datum.idx === 3", "value": 1}, "value": 0}
 }},
{"data": {"name": "pie"},
 "mark": {"type": "text", "radius": 104, "fontSize": 6, "font": "Open Sans", "color": "#333333"},
 "encoding": {
  "x": {"datum": 82.6, "type": "quantitative", "axis": null}, "y": {"datum": 23764, "type": "quantitative"},
  "theta": {"field": "pct", "type": "quantitative", "stack": true},
  "order": {"field": "idx", "type": "quantitative"},
  "text": {"field": "lab"},
  "opacity": {"condition": {"test": "datum.idx === 3", "value": 0}, "value": 1}
 }},
{"data": {"name": "pie"},
 "mark": {"type": "text", "radius": 104, "fontSize": 6, "font": "Open Sans", "color": "#333333", "dx": -18, "dy": 10},
 "encoding": {
  "x": {"datum": 82.6, "type": "quantitative", "axis": null}, "y": {"datum": 23764, "type": "quantitative"},
  "theta": {"field": "pct", "type": "quantitative", "stack": true},
  "order": {"field": "idx", "type": "quantitative"},
  "text": {"field": "lab"},
  "opacity": {"condition": {"test": "datum.idx === 3", "value": 1}, "value": 0}
 }}
]
}
]
}
